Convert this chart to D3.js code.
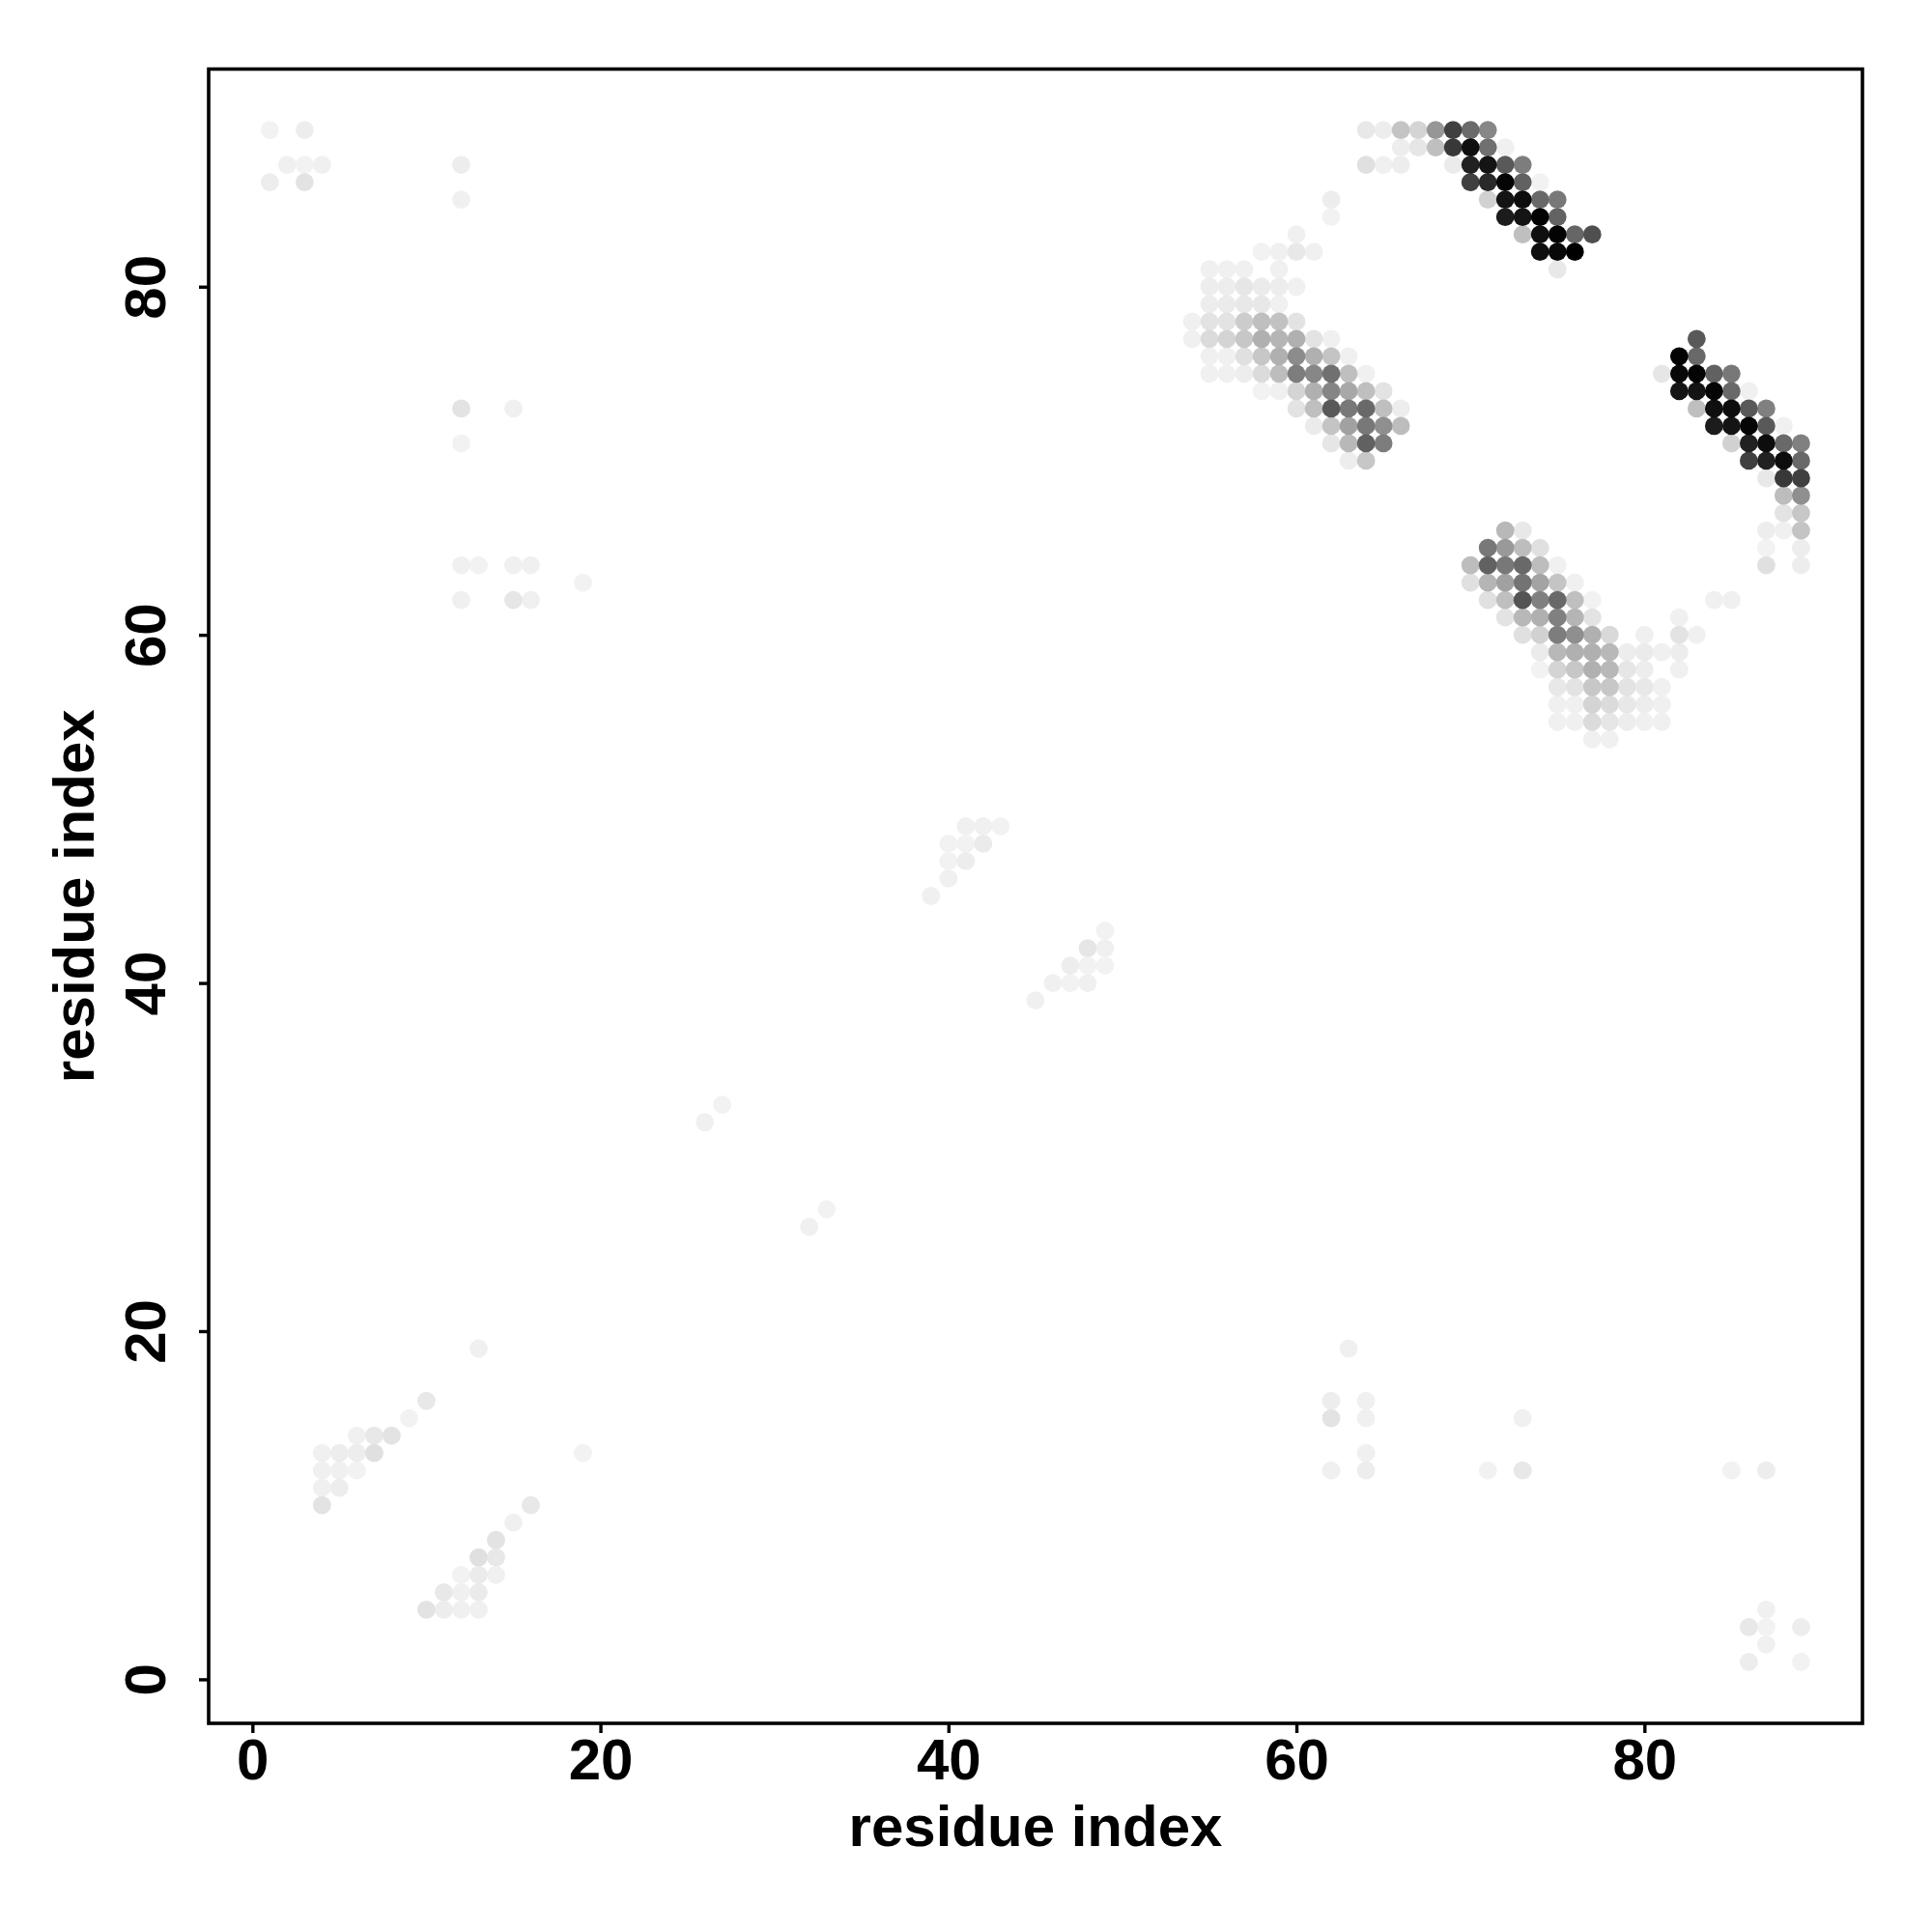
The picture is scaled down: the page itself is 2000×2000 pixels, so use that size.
<!DOCTYPE html>
<html><head><meta charset="utf-8">
<style>html,body{margin:0;padding:0;background:#fff}svg{display:block}text{font-family:"Liberation Sans",Arial,sans-serif;font-weight:700;fill:#000}</style>
<script src="https://cdn.jsdelivr.net/npm/d3@7"></script></head><body>
<script>
// Each run: [y, first x, [contact strength 0-100 for consecutive x]]
const strandUpper = [
 [89,64,[9,7,23,17,41,75,58,47]],[88,66,[7,10,25,78,94,56,6]],[87,64,[12,6,7]],[87,69,[8,87,92,65,51]],
 [86,70,[75,84,98,62,5]],[85,71,[18,92,95,59,53]],[84,72,[89,92,99,61]],[83,73,[25,94,99,60,69]],
 [82,74,[94,97,100]],[81,75,[9]]
];
const strandRight = [
 [77,83,[65]],[76,82,[99,59]],[75,81,[10,97,99,62,53]],[74,82,[92,92,98,59,6]],[73,83,[25,94,95,65,50]],
 [72,84,[89,92,98,65,6]],[71,85,[18,87,95,59,50]],[70,86,[75,87,95,59]],[69,87,[9,78,75]],[68,88,[26,44]],
 [67,88,[11,22]],[66,87,[7,6,23]],[65,87,[5]],[65,89,[7]],[64,87,[12]],[64,89,[7]]
];
const strandMiddle = [
 [84,62,[5]],[85,62,[7]],[83,60,[6]],[82,58,[5,6,9,6]],[81,55,[6,6,6]],[81,59,[6]],[80,55,[7,7,10,8,7,6]],
 [79,55,[7,8,9,9,6]],[78,54,[6,11,11,20,25,24,11]],[77,54,[6,14,17,22,31,29,31,11,6]],
 [76,55,[6,6,12,22,31,45,31,23,6]],[75,55,[6,6,7,14,26,51,47,56,25,6]],[74,58,[5,6,17,31,48,34,25,11]],
 [73,60,[11,25,65,53,59,25,7]],[72,61,[8,23,37,53,44,26]],[71,62,[10,28,62,51]],[70,63,[7,22]]
];
const strandLower = [
 [66,72,[28,9]],[65,71,[53,40,26,12]],[64,70,[26,62,53,59,26,6]],[63,70,[12,29,37,55,36,23,6]],
 [62,71,[12,25,67,50,59,25,5]],[62,84,[6,6]],[61,72,[11,28,31,50,29,11]],[61,82,[6]],
 [60,73,[12,18,51,44,31,15]],[60,80,[6]],[60,82,[11,6]],[59,74,[8,28,31,31,28,7,8,6,7]],
 [58,74,[5,17,22,31,28,10,7]],[58,82,[6]],[57,75,[9,11,22,22,11,9,6]],[56,75,[6,6,17,14,9,7,6]],
 [55,75,[6,6,14,10,7,6,6]],[54,77,[6,6]]
];
const strandLowLeft = [
 [19,13,[6]],[16,10,[9]],[15,9,[5]],[14,6,[6,9,11]],[13,4,[6,7,7,12]],[13,19,[5]],[12,4,[6,6,5]],[11,4,[6,7]],[10,4,[11]],
 [10,16,[9]],[9,15,[6]],[8,14,[11]],[7,13,[12,9]],[6,12,[5,8,6]],[5,11,[9,6,8]],[4,10,[11,7,6,6]]
];
const patchesTopLeft = [
 [89,1,[5]],[89,3,[7]],[87,2,[6,5,6]],[87,12,[7]],[86,1,[7]],[86,3,[11]],[85,12,[6]],[73,12,[11]],[73,15,[6]],
 [71,12,[5]],[64,12,[6,5]],[64,15,[6,6]],[63,19,[5]],[62,12,[6]],[62,15,[10,6]]
];
const patchesCentre = [
 [49,41,[6,6,5]],[48,40,[5,5,8]],[47,40,[5,7]],[46,40,[6]],[45,39,[6]],[43,49,[5]],[42,48,[10,6]],
 [41,47,[7,5,5]],[40,46,[6,5,6]],[39,45,[6]],[33,27,[5]],[32,26,[6]],[27,33,[5]],[26,32,[6]]
];
const patchesLowRight = [
 [19,63,[6]],[16,62,[7]],[16,64,[6]],[15,62,[11]],[15,64,[6]],[15,73,[6]],[13,64,[6]],[12,62,[6]],[12,64,[7]],
 [12,71,[5]],[12,73,[9]],[12,85,[5]],[12,87,[7]],[4,87,[6]],[3,86,[9,5]],[3,89,[7]],[2,87,[6]],[1,86,[7]],[1,89,[5]]
];
const tickValues = [0,20,40,60,80];
const axisLabel = "residue index";

const contacts = [strandUpper,strandRight,strandMiddle,strandLower,strandLowLeft,patchesTopLeft,patchesCentre,patchesLowRight]
  .flat().flatMap(([y,x0,vals]) => vals.map((v,i) => ({x:x0+i,y,v})));

const left=216,right=1928,top_=71.5,bottom=1784;
const x=d3.scaleLinear().domain([-2.515,92.53]).range([left,right]);
const y=d3.scaleLinear().domain([-2.53,92.5]).range([bottom,top_]);
const shade=d3.scaleLinear().domain([0,100]).range(["#ffffff","#000000"]);

const svg=d3.select("body").append("svg").attr("width",2000).attr("height",2000);
svg.append("rect").attr("width",2000).attr("height",2000).attr("fill","#fff");
svg.append("g").selectAll("circle").data(contacts.slice().sort((a,b)=>a.v-b.v)).join("circle")
  .attr("cx",d=>x(d.x)).attr("cy",d=>y(d.y)).attr("r",9.4).attr("fill",d=>shade(d.v));

const gx=svg.append("g").attr("transform",`translate(0,${bottom})`)
  .call(d3.axisBottom(x).tickValues(tickValues).tickSize(10).tickPadding(8).tickFormat(d3.format("d")));
const gy=svg.append("g").attr("transform",`translate(${left},0)`)
  .call(d3.axisLeft(y).tickValues(tickValues).tickSize(10).tickPadding(0).tickFormat(d3.format("d")));
for(const g of [gx,gy]){
  g.select(".domain").remove();
  g.selectAll(".tick line").attr("stroke","#000").attr("stroke-width",3.4);
  g.selectAll("text").attr("font-size",60).attr("font-family",'"Liberation Sans"').attr("font-weight",700).attr("fill","#000");
}
gx.selectAll("text").attr("dy",null).attr("y",58);
gy.selectAll("text").attr("x",null).attr("dy",null).attr("text-anchor","middle")
  .attr("transform","translate(-45,0) rotate(-90)");

svg.append("rect").attr("x",left).attr("y",top_).attr("width",right-left).attr("height",bottom-top_)
  .attr("fill","none").attr("stroke","#000").attr("stroke-width",3.6);

svg.append("text").attr("x",(left+right)/2).attr("y",1911).attr("text-anchor","middle").attr("font-size",60).text(axisLabel);
svg.append("text").attr("transform",`translate(97,${(top_+bottom)/2}) rotate(-90)`).attr("text-anchor","middle").attr("font-size",60).text(axisLabel);
</script></body></html>
